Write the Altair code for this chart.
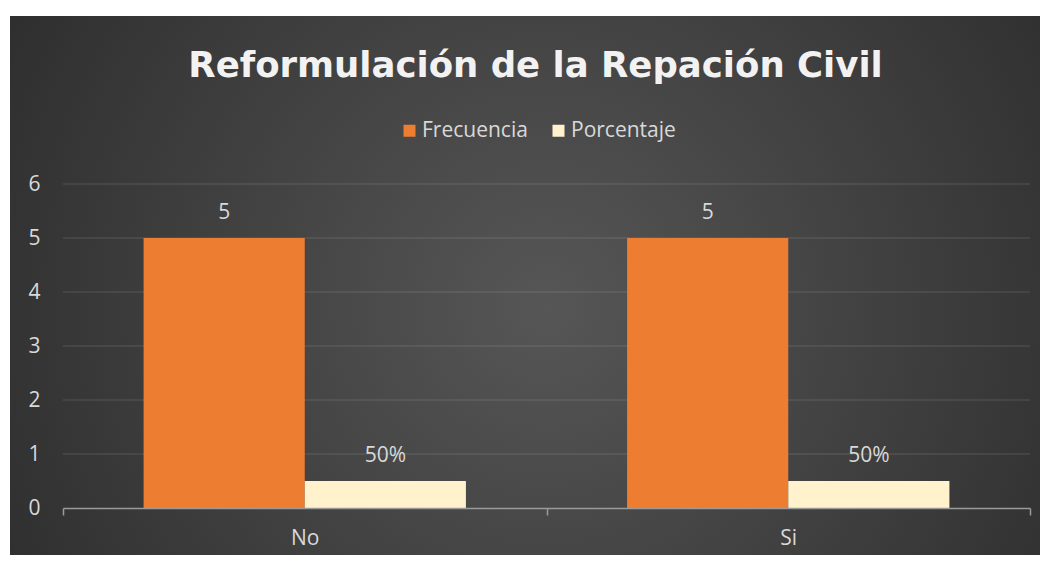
import altair as alt
import pandas as pd

categorias = ["No", "Si"]
series = ["Frecuencia", "Porcentaje"]
frecuencia = [5, 5]
porcentaje = [0.5, 0.5]
ticks_y = [0, 1, 2, 3, 4, 5, 6]
colores = ["#ED7D31", "#FFF2CC"]

rows = []
for c, f in zip(categorias, frecuencia):
    rows.append({"cat": c, "serie": "Frecuencia", "valor": f, "etiqueta": f"{f}"})
for c, p in zip(categorias, porcentaje):
    rows.append({"cat": c, "serie": "Porcentaje", "valor": p, "etiqueta": f"{p:.0%}"})
df = pd.DataFrame(rows)
grid_df = pd.DataFrame({"g": ticks_y[1:]})

W, H = 967, 324
PL, PT, PR, PB = 55, 176, 10, 47
FONT = "Open Sans"
TXT = "#d9d9d9"
FS = 21

x_axis = alt.Axis(title=None, tickBand="extent", labelAngle=0, labelFont=FONT, labelFontSize=FS,
                  labelColor=TXT, labelPadding=12, domainColor="#9a9a9a", domainWidth=1.5,
                  tickColor="#9a9a9a", tickWidth=1.5, tickSize=7, zindex=1)
y_axis = alt.Axis(title=None, values=ticks_y, grid=False, domain=False, ticks=False,
                  labelFont=FONT, labelFontSize=FS, labelColor=TXT, labelPadding=23, zindex=1)

x_enc = alt.X("cat:N", sort=categorias, axis=x_axis,
              scale=alt.Scale(paddingInner=0, paddingOuter=0))
xo_enc = alt.XOffset("serie:N", sort=series, scale=alt.Scale(paddingInner=0, paddingOuter=0.5))
y_scale = alt.Scale(domain=[0, 6], nice=False)

bg = alt.Chart(alt.Data(values=[{}])).mark_rect(
    fill=alt.Gradient(gradient="radial", x1=0.52, y1=0.52, x2=0.52, y2=0.52, r1=0, r2=0.72,
                      stops=[alt.GradientStop(offset=0, color="#565656"),
                             alt.GradientStop(offset=1, color="#262626")])
).encode(x=alt.value(2 - PL), x2=alt.value(W + PR), y=alt.value(8 - PT), y2=alt.value(H + PB))

grid = alt.Chart(grid_df).mark_rule(color="white", opacity=0.1, strokeWidth=1.3).encode(
    y=alt.Y("g:Q", scale=y_scale, axis=y_axis)
)

bars = alt.Chart(df).mark_bar().encode(
    x=x_enc, xOffset=xo_enc,
    y=alt.Y("valor:Q", scale=y_scale, axis=y_axis),
    color=alt.Color("serie:N", sort=series, scale=alt.Scale(domain=series, range=colores),
                    legend=alt.Legend(title=None, orient="none", legendX=336, legendY=-64,
                                      direction="horizontal", symbolType="square", symbolSize=144,
                                      symbolStrokeWidth=0, labelFont=FONT, labelFontSize=FS,
                                      labelColor=TXT, labelOffset=2, columnPadding=20))
)

labels = alt.Chart(df).mark_text(font=FONT, fontSize=FS, color=TXT, dy=-19, baseline="alphabetic").encode(
    x=x_enc, xOffset=xo_enc,
    y=alt.Y("valor:Q", scale=y_scale, axis=y_axis),
    text="etiqueta:N"
)

chart = alt.layer(bg, grid, bars, labels).properties(
    width=W, height=H,
    autosize=alt.AutoSizeParams(type="none"),
    padding={"left": PL, "top": PT, "right": PR, "bottom": PB},
    title=alt.TitleParams("Reformulación de la Repación Civil", font="DejaVu Sans", fontSize=35.5,
                          fontWeight="bold", color="#f2f2f2", anchor="middle",
                          baseline="alphabetic", dy=100, dx=-11)
).configure(background="white").configure_view(stroke=None)

chart.save("out.html", embed_options={"renderer": "svg", "actions": False})
